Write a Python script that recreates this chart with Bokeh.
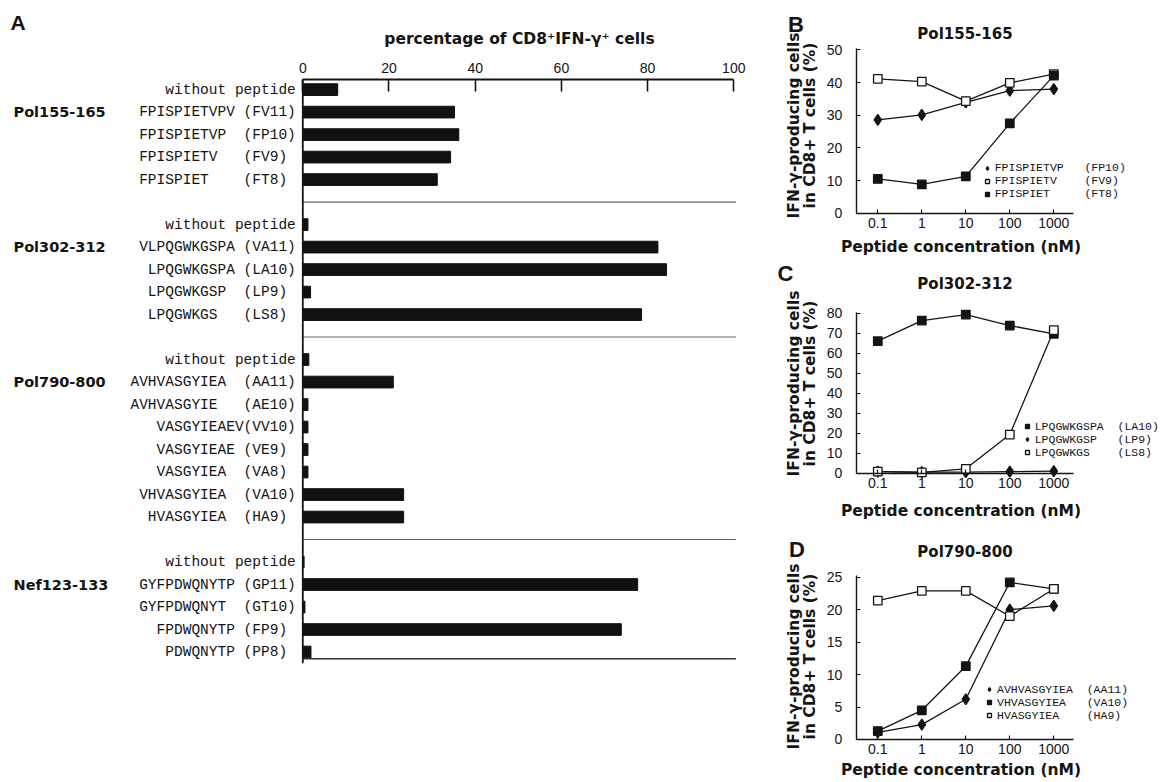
import math
from bokeh.plotting import figure
from bokeh.models import (Range1d, Label, Legend, LegendItem, FixedTicker,
                          NumeralTickFormatter, ColumnDataSource)
from bokeh.layouts import row, column
from bokeh.embed import file_html
from bokeh.resources import INLINE
from bokeh.core.properties import value

NB = "\u00a0"
INK = "#141414"

# ---------------- Panel A data ----------------
group_names = ["Pol155-165", "Pol302-312", "Pol790-800", "Nef123-133"]

pol155_labels = ["without peptide", "FPISPIETVPV (FV11)", "FPISPIETVP  (FP10)",
                 "FPISPIETV   (FV9) ", "FPISPIET    (FT8) "]
pol155_values = [8.1, 35.2, 36.2, 34.3, 31.2]

pol302_labels = ["without peptide", "VLPQGWKGSPA (VA11)", "LPQGWKGSPA (LA10)",
                 "LPQGWKGSP  (LP9) ", "LPQGWKGS   (LS8) "]
pol302_values = [1.2, 82.4, 84.4, 1.8, 78.6]

pol790_labels = ["without peptide", "AVHVASGYIEA  (AA11)", "AVHVASGYIE   (AE10)",
                 "VASGYIEAEV(VV10)", "VASGYIEAE (VE9) ", "VASGYIEA  (VA8) ",
                 "VHVASGYIEA  (VA10)", "HVASGYIEA  (HA9) "]
pol790_values = [1.4, 21.0, 1.2, 1.2, 1.2, 1.2, 23.4, 23.4]

nef123_labels = ["without peptide", "GYFPDWQNYTP (GP11)", "GYFPDWQNYT  (GT10)",
                 "FPDWQNYTP (FP9) ", "PDWQNYTP (PP8) "]
nef123_values = [0.3, 77.7, 0.5, 73.9, 1.9]

pct_ticks = [0, 20, 40, 60, 80, 100]

# ---------------- Panels B-D data ----------------
conc = [0.1, 1, 10, 100, 1000]
conc_ticks = [0.1, 1, 10, 100, 1000]

b_fp10 = [28.6, 30.1, 33.9, 37.5, 38.0]
b_fv9 = [41.1, 40.3, 34.3, 39.9, 42.6]
b_ft8 = [10.5, 8.8, 11.3, 27.5, 42.1]

c_la10 = [66.0, 76.3, 79.3, 73.8, 69.7]
c_lp9 = [0.8, 0.5, 0.5, 0.8, 1.0]
c_ls8 = [0.8, 0.4, 2.2, 19.3, 71.5]

d_aa11 = [1.1, 2.3, 6.2, 20.0, 20.6]
d_va10 = [1.3, 4.5, 11.3, 24.2, 23.2]
d_ha9 = [21.4, 22.9, 22.9, 19.0, 23.2]


def add_text(p, x, y, text, size, font="DejaVu Sans", style="bold", angle=0.0,
             align="center"):
    p.add_layout(Label(x=x, y=p.height - y, x_units="screen", y_units="screen",
                       text=text, angle=angle, text_font=font, text_font_style=style,
                       text_font_size=size, text_align=align, text_baseline="middle",
                       text_color=INK))


# ---------------- Panel A ----------------
groups = [(group_names[0], pol155_labels, pol155_values),
          (group_names[1], pol302_labels, pol302_values),
          (group_names[2], pol790_labels, pol790_values),
          (group_names[3], nef123_labels, nef123_values)]

rows_y, rows_lab, rows_val, group_rows, sep_rows = [], [], [], [], []
r = 0
for gi, (name, labs, vals) in enumerate(groups):
    group_rows.append(r + 1)
    for lab, v in zip(labs, vals):
        rows_y.append(r)
        rows_lab.append(lab.replace(" ", NB))
        rows_val.append(v)
        r += 1
    if gi < len(groups) - 1:
        sep_rows.append(r)
        r += 1
last_row = r - 1

src = ColumnDataSource(dict(y=rows_y, label=rows_lab, val=rows_val))

x0, x1 = -70.14, 106.2
axis_row = -0.45
pA = figure(width=760, height=782, x_range=Range1d(x0, x1),
            y_range=Range1d(30.80, -3.961),
            x_axis_location="above", y_axis_location=None,
            output_backend="svg", toolbar_location=None, min_border=0)
pA.outline_line_color = None
pA.xgrid.visible = False
pA.ygrid.visible = False

ax = pA.xaxis[0]
ax.fixed_location = axis_row
ax.ticker = FixedTicker(ticks=pct_ticks)
ax.bounds = (0, 100)
ax.major_tick_in = 12
ax.major_tick_out = 0
ax.major_tick_line_width = 1.6
ax.major_tick_line_color = INK
ax.minor_tick_line_color = None
ax.axis_line_width = 2
ax.axis_line_color = INK
ax.major_label_standoff = 6
ax.major_label_text_font = "Liberation Sans"
ax.major_label_text_font_size = "14px"
ax.major_label_text_color = INK

pA.hbar(y="y", left=0, right="val", height=0.52, source=src,
        fill_color="#111111", line_color="#111111")

pA.text(x=0, y="y", text="label", source=src, x_offset=-7,
        text_align="right", text_baseline="middle",
        text_font=value("Liberation Mono"), text_font_size="14.5px", text_color=INK)

pA.text(x=x0, y=group_rows, text=group_names, x_offset=13,
        text_align="left", text_baseline="middle",
        text_font=value("DejaVu Sans"), text_font_style="bold",
        text_font_size="14.5px", text_color=INK)

pA.segment(x0=0, x1=100.5, y0=sep_rows, y1=sep_rows, line_color="#666666", line_width=1.1)
pA.segment(x0=0, x1=100.5, y0=last_row + 0.3, y1=last_row + 0.3,
           line_color="#333333", line_width=1.4)
pA.segment(x0=0, x1=0, y0=axis_row, y1=last_row + 0.5, line_color=INK, line_width=1.8)

add_text(pA, 10, 22, "A", "21px", font="Liberation Sans", align="left")
add_text(pA, 519, 38, "percentage of CD8\u207aIFN-\u03b3\u207a cells", "15.5px")


# ---------------- Panels B-D ----------------
X_LEFT = 10 ** -3.666
X_RIGHT = 10 ** 5.584
X_AXIS_START = 10 ** -1.491
X_AXIS_END = 10 ** 3.448


def conc_panel(letter, title, series, yr, y_top, yticks, height,
               leg_loc, letter_xy, title_y, ylab_y, xlab_y):
    p = figure(x_axis_type="log", x_range=Range1d(X_LEFT, X_RIGHT),
               y_range=Range1d(*yr), width=407, height=height, min_border=0,
               output_backend="svg", toolbar_location=None)
    p.outline_line_color = None
    p.grid.visible = False
    p.xaxis.ticker = FixedTicker(ticks=conc_ticks)
    p.xaxis.formatter = NumeralTickFormatter(format="0.[0]")
    p.xaxis.fixed_location = 0
    p.xaxis.bounds = (X_AXIS_START, X_AXIS_END)
    p.yaxis.ticker = FixedTicker(ticks=yticks)
    p.yaxis.fixed_location = X_AXIS_START
    p.yaxis.bounds = (0, y_top)
    for a in (p.xaxis[0], p.yaxis[0]):
        a.axis_line_width = 1.4
        a.axis_line_color = INK
        a.major_tick_in = 4
        a.major_tick_out = 0
        a.major_tick_line_color = INK
        a.major_tick_line_width = 1.2
        a.minor_tick_line_color = None
        a.major_label_text_font = "Liberation Sans"
        a.major_label_text_font_size = "14px"
        a.major_label_text_color = INK
    p.xaxis.major_label_standoff = 5
    p.yaxis.major_label_standoff = 14

    items = []
    for lab, vals, marker, filled in series:
        p.line(conc, vals, line_color=INK, line_width=1.3)
    for lab, vals, marker, filled in series:
        size = 11 if marker == "diamond" else 8.5
        rr = p.scatter(conc, vals, marker=marker, size=size, line_color=INK, line_width=1.3,
                       fill_color=INK if filled else "white")
        items.append(LegendItem(label=value(lab.replace(" ", NB)), renderers=[rr]))

    leg = Legend(items=items, location=leg_loc, orientation="vertical", padding=0, margin=0,
                 spacing=0, border_line_color=None, background_fill_alpha=0,
                 label_text_font="Liberation Mono", label_text_font_size="11.5px",
                 label_text_color=INK, label_height=12, glyph_height=12, glyph_width=10,
                 label_standoff=3)
    p.add_layout(leg)

    add_text(p, letter_xy[0], letter_xy[1], letter, "22px", font="Liberation Sans")
    add_text(p, 204.5, title_y, title, "15px")
    add_text(p, 33, ylab_y, "IFN-\u03b3-producing cells", "15.5px", angle=math.pi / 2)
    add_text(p, 49, ylab_y, "in CD8+ T cells (%)", "15.5px", angle=math.pi / 2)
    add_text(p, 200.5, xlab_y, "Peptide concentration (nM)", "15.5px")
    return p


pB = conc_panel("B", "Pol155-165",
                [("FPISPIETVP   (FP10)", b_fp10, "diamond", True),
                 ("FPISPIETV    (FV9)", b_fv9, "square", False),
                 ("FPISPIET     (FT8)", b_ft8, "square", True)],
                (-14.78, 65.11), 50.3, [0, 10, 20, 30, 40, 50], 261,
                (221.7, 60.7), (35.5, 24), 33, 125, 246.7)

pC = conc_panel("C", "Pol302-312",
                [("LPQGWKGSPA  (LA10)", c_la10, "square", True),
                 ("LPQGWKGSP   (LP9)", c_lp9, "diamond", True),
                 ("LPQGWKGS    (LS8)", c_ls8, "square", False)],
                (-23.15, 105.85), 80.4, [0, 10, 20, 30, 40, 50, 60, 70, 80], 258,
                (261.7, 60.2), (25, 12), 22.3, 122, 249)

pD = conc_panel("D", "Pol790-800",
                [("AVHVASGYIEA  (AA11)", d_aa11, "diamond", True),
                 ("VHVASGYIEA   (VA10)", d_va10, "square", True),
                 ("HVASGYIEA    (HA9)", d_ha9, "square", False)],
                (-6.626, 33.90), 25.2, [0, 5, 10, 15, 20, 25], 263,
                (224, 60.5), (36.5, 30), 32.7, 137, 250)

layout = row(pA, column(pB, pC, pD))
open("out.html", "w").write(file_html(layout, INLINE))
